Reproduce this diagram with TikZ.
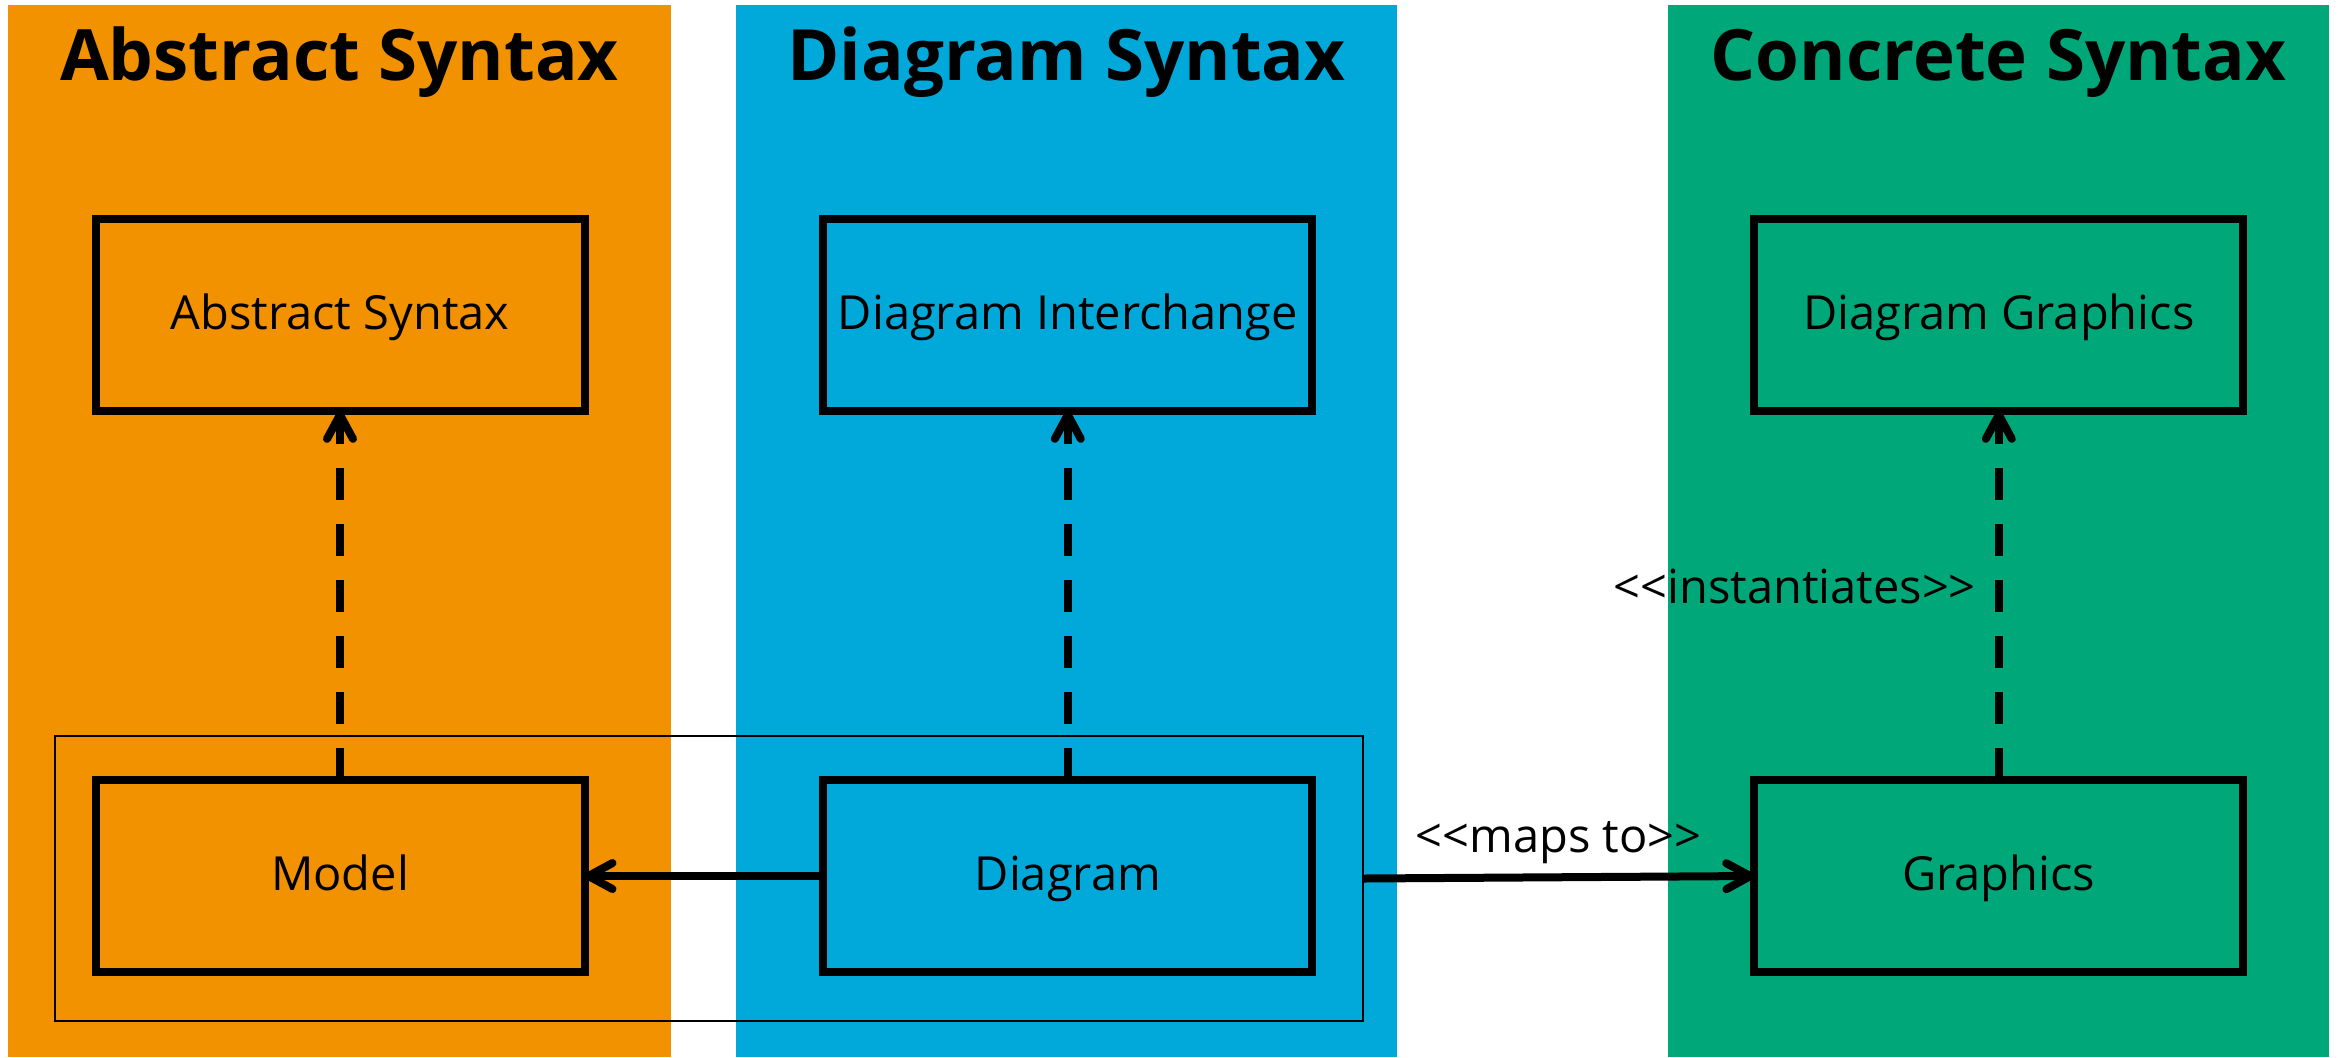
\documentclass[tikz,border=0pt]{standalone}
\usepackage{fontspec}
\newfontfamily\lblfont{Open Sans}
\usetikzlibrary{arrows.meta}
\definecolor{orangecol}{HTML}{F39200}
\definecolor{bluecol}{HTML}{00A9DA}
\definecolor{greencol}{HTML}{00A779}
\begin{document}
\begin{tikzpicture}[x=0.5pt,y=-0.5pt,
  titletext/.style={font=\lblfont\bfseries\fontsize{35.4}{40}\selectfont, anchor=base, inner sep=0},
  cls/.style={draw=black, line width=4pt, minimum width=244.5pt, minimum height=95.85pt,
    inner sep=0, outer sep=0, text height=20pt, text depth=5.3pt,
    font=\lblfont\fontsize{23.5}{28}\selectfont},
  grpbox/.style={draw=black, line width=1.4pt, minimum width=654pt, minimum height=142.5pt,
    inner sep=0, outer sep=0},
  lbl/.style={font=\lblfont\fontsize{23.5}{28}\selectfont},
  assoc/.style={line width=4pt, -{Straight Barb[length=12pt,width=13pt,line cap=round,line join=round]}},
  depend/.style={line width=4pt, dash pattern=on 16pt off 12pt,
    -{Straight Barb[length=12pt,width=13pt,line cap=round,line join=round]}}
]
\useasboundingbox (0,0) rectangle (2338,1057);
\fill[white] (0,0) rectangle (2338,1057);
% columns
\fill[orangecol] (8,5) rectangle (671,1057);
\fill[bluecol] (736,5) rectangle (1397,1057);
\fill[greencol] (1668,5) rectangle (2329,1057);
% titles
\node[titletext] (t1) at (339.5,80) {Abstract Syntax};
\node[titletext] (t2) at (1066.5,80) {Diagram Syntax};
\node[titletext] (t3) at (1998.5,80) {Concrete Syntax};
% boxes
\node[cls] (as) at (340,315) {Abstract Syntax};
\node[cls] (di) at (1067.8,315) {Diagram Interchange};
\node[cls] (dg) at (1998.8,315) {Diagram Graphics};
\node[cls] (model) at (340,876) {Model};
\node[cls] (diag) at (1067.8,876) {Diagram};
\node[cls] (gfx) at (1998.8,876) {Graphics};
\node[grpbox] (grp) at (709,878.5) {};
% connectors
\draw[assoc] (diag) -- (model);
\draw[assoc] (grp.east) -- node[lbl, above, inner sep=4.5pt] (mapslbl) {<<maps to>>} (gfx.west);
\draw[depend] (model) -- (as);
\draw[depend] (diag) -- (di);
\draw[depend] (gfx) -- node[lbl, anchor=east, inner sep=0, xshift=-9.5pt, yshift=4.5pt] (instlbl) {<<instantiates>>} (dg);
\end{tikzpicture}
\end{document}
